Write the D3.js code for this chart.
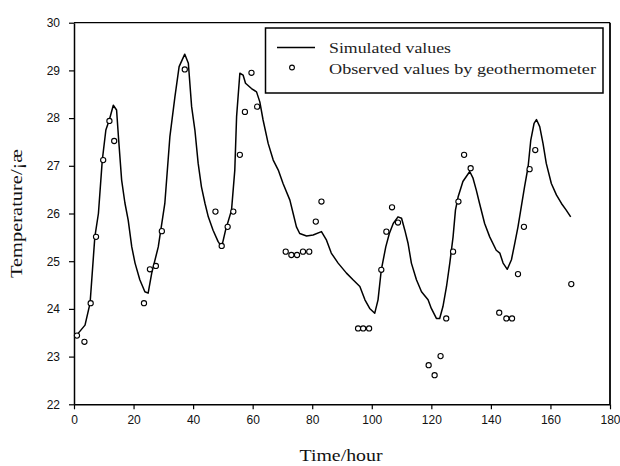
<!DOCTYPE html>
<html><head><meta charset="utf-8">
<script src="https://cdn.jsdelivr.net/npm/d3@7"></script>
<style>body{margin:0;background:#fff}svg{display:block}</style>
</head><body>
<script>
// Simulated series (time in hours, temperature)
const simTime = [0.9,3.7,5.4,7.0,8.2,9.5,10.7,11.9,13.2,14.3,15.0,16.0,17.1,18.2,19.4,20.5,22.1,23.8,24.9,26.1,28.3,30.5,32.2,33.9,35.3,37.2,38.4,39.5,40.6,41.7,42.8,44.0,45.1,46.7,48.4,49.6,50.9,52.9,54.0,54.6,55.7,56.8,57.6,59.6,61.3,62.4,63.5,65.2,66.9,68.6,70.2,72.5,73.6,74.7,75.8,78.1,80.3,83.1,84.8,86.4,88.7,91.5,93.7,96.0,97.7,99.3,101.0,102.1,103.2,104.7,105.9,107.2,108.8,110.0,111.1,112.2,113.3,115.0,116.7,118.9,120.0,121.7,122.8,123.9,125.1,126.2,127.3,128.1,129.0,130.6,132.9,134.0,135.1,136.2,137.9,139.6,141.8,143.0,144.1,145.5,146.9,148.0,149.1,150.2,151.3,152.5,153.4,154.5,155.3,156.4,157.5,158.6,160.3,162.0,163.7,165.3,166.8];
const simTemp = [23.45,23.66,24.12,25.51,26.0,27.12,27.75,27.97,28.27,28.17,27.54,26.70,26.22,25.86,25.30,24.96,24.61,24.36,24.33,24.75,25.30,26.21,27.61,28.45,29.08,29.34,29.15,28.24,27.75,27.05,26.56,26.21,25.93,25.65,25.41,25.30,25.65,26.07,26.91,28.03,28.94,28.90,28.73,28.62,28.55,28.34,27.96,27.47,27.12,26.91,26.63,26.28,26.00,25.72,25.58,25.53,25.55,25.62,25.44,25.17,24.96,24.75,24.61,24.47,24.19,24.01,23.91,24.19,24.82,25.30,25.58,25.79,25.93,25.90,25.65,25.37,24.96,24.61,24.36,24.19,24.01,23.80,23.80,24.05,24.47,24.96,25.51,26.07,26.35,26.67,26.88,26.74,26.49,26.21,25.79,25.51,25.23,25.17,24.96,24.83,25.03,25.37,25.72,26.14,26.56,26.98,27.54,27.89,27.97,27.82,27.47,27.05,26.63,26.39,26.21,26.07,25.93];

// Observed values by geothermometer
const obsTime = [1.0,3.5,5.6,7.4,9.8,11.9,13.5,23.5,25.5,27.5,29.5,37.2,47.5,49.6,51.6,53.5,55.7,57.4,59.6,61.5,71.1,73.0,74.9,76.9,79.0,81.2,83.1,95.4,97.1,99.1,103.2,104.9,106.8,108.8,119.1,121.1,123.1,125.0,127.3,129.1,131.0,133.2,142.8,145.2,147.1,149.1,151.1,153.0,154.9,167.0];
const obsTemp = [23.44,23.31,24.12,25.51,27.12,27.94,27.52,24.12,24.83,24.90,25.63,29.02,26.04,25.32,25.72,26.04,27.23,28.13,28.95,28.24,25.20,25.13,25.13,25.20,25.20,25.83,26.25,23.59,23.59,23.59,24.82,25.62,26.13,25.81,22.82,22.61,23.01,23.80,25.20,26.25,27.23,26.95,23.92,23.80,23.80,24.73,25.72,26.93,27.33,24.52];

const xTicks = [0,20,40,60,80,100,120,140,160,180];
const yTicks = [22,23,24,25,26,27,28,29,30];
const legendLabels = ["Simulated values","Observed values by geothermometer"];
const xTitle = "Time/hour";
const yTitle = "Temperature/¡æ";

const W = 620, H = 466;
const L = 74, R = 610, T = 22.7, B = 404.3;
const svg = d3.select("body").append("svg").attr("width", W).attr("height", H);

const x = d3.scaleLinear().domain([0,180]).range([L,R]);
const y = d3.scaleLinear().domain([22,30]).range([B,T]);

// frame top/right
svg.append("line").attr("x1",L).attr("x2",R).attr("y1",T).attr("y2",T).attr("stroke","#000").attr("stroke-width",1.2);
svg.append("line").attr("x1",R).attr("x2",R).attr("y1",T).attr("y2",B).attr("stroke","#000").attr("stroke-width",1.8);

const tickFont = "'Liberation Sans', Arial, sans-serif";
const xAxis = svg.append("g").attr("transform",`translate(0,${B})`)
  .call(d3.axisBottom(x).tickValues(xTicks).tickSize(5).tickSizeOuter(0).tickPadding(6).tickFormat(d3.format("d")));
const yAxis = svg.append("g").attr("transform",`translate(${L},0)`)
  .call(d3.axisLeft(y).tickValues(yTicks).tickSize(5).tickSizeOuter(0).tickPadding(9).tickFormat(d3.format("d")));
[xAxis,yAxis].forEach(g=>{
  g.select(".domain").attr("stroke","#000").attr("stroke-width",1.5);
  g.selectAll(".tick line").attr("stroke","#000").attr("stroke-width",1.2);
  g.selectAll(".tick text").attr("fill","#111").style("font-family",tickFont).style("font-size","12px");
});

// simulated line
const simData = simTime.map((t,i)=>[t, simTemp[i]]);
svg.append("path").datum(simData)
  .attr("fill","none").attr("stroke","#000").attr("stroke-width",1.5).attr("stroke-linejoin","round")
  .attr("d", d3.line().x(d=>x(d[0])).y(d=>y(d[1])));

// observed circles
const obsData = obsTime.map((t,i)=>[t, obsTemp[i]]);
svg.append("g").selectAll("circle").data(obsData).join("circle")
  .attr("cx",d=>x(d[0])).attr("cy",d=>y(d[1])).attr("r",2.6)
  .attr("fill","#fff").attr("stroke","#000").attr("stroke-width",1.1);

// legend
const serif = "'Liberation Serif', 'Times New Roman', serif";
const lg = svg.append("g");
lg.append("rect").attr("x",265.5).attr("y",28).attr("width",337.5).attr("height",65)
  .attr("fill","#fff").attr("stroke","#000").attr("stroke-width",1.5);
lg.append("line").attr("x1",277).attr("x2",315).attr("y1",47.5).attr("y2",47.5).attr("stroke","#000").attr("stroke-width",1.5);
lg.append("circle").attr("cx",292).attr("cy",67.5).attr("r",2.4).attr("fill","#fff").attr("stroke","#000").attr("stroke-width",1.1);
lg.append("text").attr("x",329).attr("y",52.5).text(legendLabels[0])
  .style("font-family",serif).style("font-size","14px").attr("fill","#222")
  .attr("textLength",122).attr("lengthAdjust","spacingAndGlyphs");
lg.append("text").attr("x",329).attr("y",74).text(legendLabels[1])
  .style("font-family",serif).style("font-size","14px").attr("fill","#222")
  .attr("textLength",267).attr("lengthAdjust","spacingAndGlyphs");

// axis titles
svg.append("text").attr("x",341).attr("y",461).attr("text-anchor","middle").text(xTitle)
  .style("font-family",serif).style("font-size","17px").attr("fill","#111")
  .attr("textLength",83).attr("lengthAdjust","spacingAndGlyphs");
svg.append("text").attr("transform",`translate(22,${(T+B)/2}) rotate(-90)`).attr("text-anchor","middle").text(yTitle)
  .style("font-family",serif).style("font-size","16px").attr("fill","#111")
  .attr("textLength",129).attr("lengthAdjust","spacingAndGlyphs");
</script>
</body></html>
